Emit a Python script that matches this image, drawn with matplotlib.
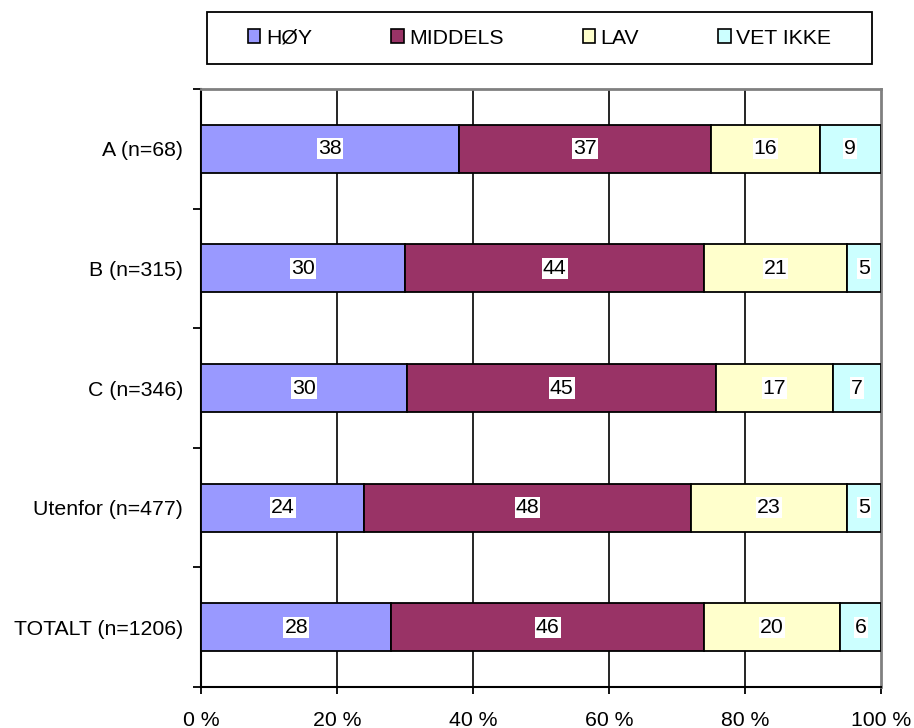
import matplotlib
matplotlib.use("Agg")
import matplotlib.pyplot as plt
import numpy as np
from matplotlib.patches import Patch, Rectangle

plt.rcParams['font.family'] = ['Liberation Sans', 'DejaVu Sans']

categories = ["A (n=68)", "B (n=315)", "C (n=346)", "Utenfor (n=477)", "TOTALT (n=1206)"]
series_names = ["HØY", "MIDDELS", "LAV", "VET IKKE"]
hoy = [38, 30, 30, 24, 28]
middels = [37, 44, 45, 48, 46]
lav = [16, 21, 17, 23, 20]
vet_ikke = [9, 5, 7, 5, 6]
xticklabels = ["0 %", "20 %", "40 %", "60 %", "80 %", "100 %"]

colors = ["#9999FF", "#993366", "#FFFFCC", "#CCFFFF"]

data = np.array([hoy, middels, lav, vet_ikke], dtype=float)
totals = data.sum(axis=0)
shares = data / totals * 100

W, H = 914, 728
fig = plt.figure(figsize=(W / 100, H / 100), dpi=100)
ax = fig.add_axes([201/W, 1-687/H, 680/W, (687-89)/H])

n = len(categories)
y = np.arange(n)
left = np.zeros(n)
fs = 15.3
for i, name in enumerate(series_names):
    ax.barh(y, shares[i], left=left, height=0.4, color=colors[i],
            edgecolor="black", linewidth=1.3, zorder=3)
    for j in range(n):
        cx = left[j] + shares[i][j] / 2
        ax.text(cx, y[j], f"{int(data[i][j])}", ha="center", va="center",
                fontsize=fs, zorder=5,
                bbox=dict(boxstyle="square,pad=0.05", fc="white", ec="none"))
    left += shares[i]

ax.set_xlim(0, 100)
ax.set_ylim(n - 0.5, -0.5)
ax.set_xticks(np.arange(0, 101, 20))
ax.set_xticklabels(xticklabels, fontsize=fs)
ax.set_yticks(y)
ax.set_yticklabels(categories, fontsize=fs)
ax.set_yticks(np.arange(-0.5, n, 1), minor=True)
ax.tick_params(axis="y", which="major", length=0, pad=13)
ax.tick_params(axis="y", which="minor", length=6, width=1.3, color="black", direction="out")
ax.tick_params(axis="x", which="major", length=5, width=1.3, direction="out", pad=12)

for xv in [20, 40, 60, 80]:
    ax.axvline(xv, color="black", linewidth=1.2, zorder=1)

for s in ["left", "bottom"]:
    ax.spines[s].set_color("black")
    ax.spines[s].set_linewidth(1.5)
for s in ["top", "right"]:
    ax.spines[s].set_color("#808080")
    ax.spines[s].set_linewidth(2)

# legend frame
fig.patches.append(Rectangle((207 / W, 1 - 64 / H), (872 - 207) / W, (64 - 12) / H,
                             transform=fig.transFigure, fill=False,
                             edgecolor="black", linewidth=1.3))

handles = [Patch(facecolor=c, edgecolor="black", linewidth=1.2) for c in colors]
leg = fig.legend(handles, series_names, loc="center",
                 bbox_to_anchor=((207 + 872) / 2 / W, 1 - 38 / H),
                 ncol=4, frameon=False, fontsize=fs,
                 handlelength=0.6, handleheight=0.68, handletextpad=0.25,
                 columnspacing=3.72, borderpad=0.3)

fig.savefig("out.png", dpi=100)
